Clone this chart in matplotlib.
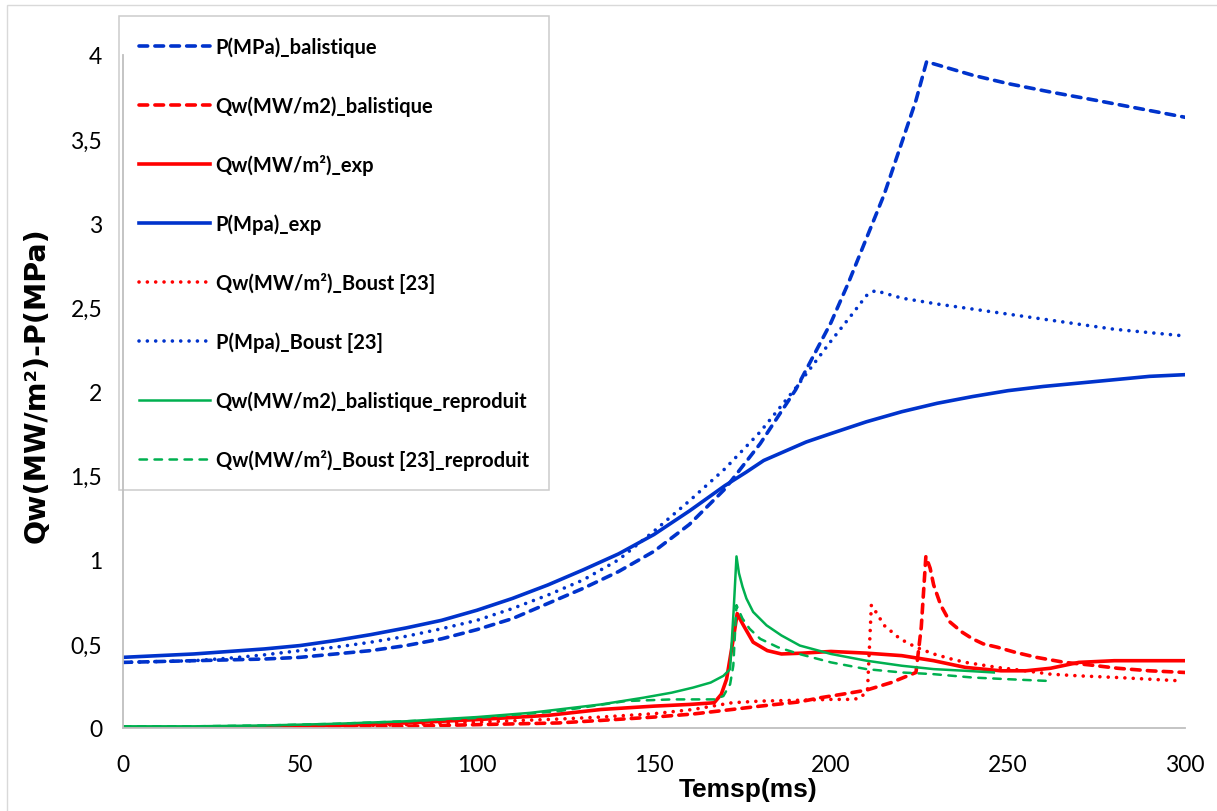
import matplotlib
matplotlib.use('Agg')
import matplotlib.pyplot as plt
from matplotlib.ticker import FuncFormatter, MultipleLocator
from matplotlib.patches import Rectangle
from matplotlib.font_manager import FontProperties

# ---------------- data ----------------
t_p_bal = [0, 10, 20, 30, 40, 50, 60, 70, 80, 90, 100, 110, 120, 130, 140, 150, 160, 170, 180, 190,
           200, 205, 210, 215, 220, 224, 227, 240, 250, 262, 275, 290, 300]
p_bal = [0.39, 0.395, 0.40, 0.405, 0.41, 0.42, 0.44, 0.46, 0.49, 0.53, 0.585, 0.65, 0.74, 0.83, 0.93,
         1.05, 1.21, 1.42, 1.69, 2.01, 2.41, 2.65, 2.91, 3.17, 3.48, 3.73, 3.96, 3.88, 3.83, 3.78,
         3.73, 3.67, 3.63]

t_q_bal = [0, 20, 40, 60, 80, 100, 123, 135, 150, 161, 172, 180, 191, 197, 203, 210, 217, 224,
           225.5, 226.8, 228, 229, 231, 233.6, 237, 240, 243, 247, 252, 258, 266, 273, 281, 290, 300]
q_bal = [0.0, 0.0, 0.0, 0.005, 0.01, 0.02, 0.03, 0.045, 0.065, 0.083, 0.11, 0.13, 0.155, 0.18, 0.20,
         0.225, 0.27, 0.33, 0.60, 1.02, 0.95, 0.85, 0.73, 0.63, 0.57, 0.53, 0.50, 0.48, 0.45, 0.42,
         0.39, 0.375, 0.355, 0.34, 0.33]

t_q_exp = [0, 20, 40, 60, 80, 100, 120, 135, 150, 160, 167, 169, 170.5, 172.4, 173.5, 175, 178, 182,
           186, 192, 200, 210, 220, 229, 238, 248, 255, 262, 270, 280, 290, 300]
q_exp = [0.0, 0.0, 0.005, 0.015, 0.03, 0.05, 0.075, 0.11, 0.13, 0.14, 0.15, 0.20, 0.29, 0.53, 0.68,
         0.62, 0.51, 0.46, 0.44, 0.445, 0.455, 0.445, 0.43, 0.40, 0.36, 0.34, 0.34, 0.355, 0.39, 0.40,
         0.40, 0.40]

t_p_exp = [0, 10, 20, 30, 40, 50, 60, 70, 80, 90, 100, 110, 120, 130, 140, 150, 160, 170, 176, 181,
           187, 193, 200, 210, 220, 230, 240, 250, 260, 270, 280, 290, 300]
p_exp = [0.42, 0.43, 0.44, 0.455, 0.47, 0.49, 0.52, 0.555, 0.595, 0.64, 0.70, 0.77, 0.85, 0.94, 1.035,
         1.15, 1.29, 1.44, 1.52, 1.59, 1.645, 1.70, 1.75, 1.82, 1.88, 1.93, 1.97, 2.005, 2.03, 2.05,
         2.07, 2.09, 2.10]

t_q_boust = [0, 20, 40, 60, 80, 100, 123, 135, 150, 161, 172, 180, 191, 200, 205, 208, 210.3, 211.4,
             213, 215, 219.5, 224, 229, 234, 238, 247, 255, 262, 270, 281, 290, 299]
q_boust = [0.0, 0.0, 0.005, 0.01, 0.02, 0.035, 0.053, 0.065, 0.085, 0.11, 0.15, 0.16, 0.165, 0.17,
           0.17, 0.175, 0.22, 0.73, 0.68, 0.61, 0.53, 0.48, 0.44, 0.41, 0.39, 0.36, 0.34, 0.32, 0.31,
           0.30, 0.29, 0.28]

t_p_boust = [0, 10, 20, 30, 40, 50, 60, 70, 80, 90, 100, 110, 120, 130, 140, 150, 160, 170, 180, 190,
             200, 206, 210, 212.5, 220, 230, 240, 250, 260, 270, 280, 290, 300]
p_boust = [0.39, 0.395, 0.40, 0.415, 0.435, 0.46, 0.48, 0.51, 0.545, 0.59, 0.64, 0.71, 0.79, 0.88,
           1.00, 1.17, 1.35, 1.54, 1.76, 2.02, 2.30, 2.46, 2.57, 2.60, 2.555, 2.52, 2.49, 2.46, 2.43,
           2.40, 2.37, 2.35, 2.33]

t_q_bal_rep = [0, 20, 40, 60, 80, 100, 115, 125, 135, 147, 155, 161, 166, 169.6, 171.5, 172.5, 173.3,
               174, 175, 176.1, 178, 181.8, 186, 191.2, 200, 210, 220, 229, 238, 246]
q_bal_rep = [0.01, 0.01, 0.015, 0.025, 0.04, 0.065, 0.09, 0.115, 0.14, 0.18, 0.21, 0.24, 0.27, 0.31,
             0.35, 0.70, 1.02, 0.92, 0.84, 0.77, 0.69, 0.61, 0.55, 0.49, 0.44, 0.40, 0.37, 0.35, 0.34,
             0.33]

t_q_boust_rep = [0, 20, 40, 60, 80, 100, 123, 142, 155, 167, 169.6, 171.5, 172.4, 173.3, 175, 177,
                 180, 185, 191, 200, 210, 220, 229, 240, 250, 261]
q_boust_rep = [0.01, 0.01, 0.015, 0.025, 0.04, 0.06, 0.10, 0.16, 0.17, 0.17, 0.19, 0.26, 0.37, 0.73,
               0.65, 0.59, 0.53, 0.48, 0.44, 0.39, 0.35, 0.33, 0.32, 0.30, 0.29, 0.28]

labels = ["P(MPa)_balistique", "Qw(MW/m2)_balistique", "Qw(MW/m²)_exp", "P(Mpa)_exp",
          "Qw(MW/m²)_Boust [23]", "P(Mpa)_Boust [23]", "Qw(MW/m2)_balistique_reproduit",
          "Qw(MW/m²)_Boust [23]_reproduit"]
x_label = "Temsp(ms)"
y_label = "Qw(MW/m²)-P(MPa)"

# ---------------- figure ----------------
W, H, DPI = 1217, 812, 100
fig = plt.figure(figsize=(W / DPI, H / DPI), dpi=DPI)
ax = fig.add_axes([123 / W, 1 - 729 / H, (1185 - 123) / W, (729 - 56) / H])

BLUE = '#0033CC'
RED = '#FF0000'
GREEN = '#00B050'
LW = 2.6
LWG = 1.8

dash = dict(linestyle=(0, (2.4, 2.0)), dash_capstyle='round')
dot = dict(linestyle=(0, (0.01, 2.3)), dash_capstyle='round')
gdash = dict(linestyle=(0, (3.0, 3.0)), dash_capstyle='round')

series = [
    (t_p_bal, p_bal, BLUE, LW, dash),
    (t_q_bal, q_bal, RED, LW, dash),
    (t_q_exp, q_exp, RED, LW, dict(linestyle='-')),
    (t_p_exp, p_exp, BLUE, LW, dict(linestyle='-')),
    (t_q_boust, q_boust, RED, LW, dot),
    (t_p_boust, p_boust, BLUE, LW, dot),
    (t_q_bal_rep, q_bal_rep, GREEN, LWG, dict(linestyle='-')),
    (t_q_boust_rep, q_boust_rep, GREEN, LWG, gdash),
]
handles = []
for (tx, vy, c, lw, st), lab in zip(series, labels):
    h, = ax.plot(tx, vy, color=c, lw=lw, label=lab, solid_joinstyle='round', **st)
    handles.append(h)

ax.set_xlim(0, 300)
ax.set_ylim(0, 4)
ax.xaxis.set_major_locator(MultipleLocator(50))
ax.yaxis.set_major_locator(MultipleLocator(0.5))
fmt = FuncFormatter(lambda v, p: f"{v:g}".replace('.', ','))
ax.xaxis.set_major_formatter(fmt)
ax.yaxis.set_major_formatter(fmt)
for s in ['top', 'right']:
    ax.spines[s].set_visible(False)
for s in ['left', 'bottom']:
    ax.spines[s].set_color('#BFBFBF')
    ax.spines[s].set_linewidth(1.3)
ax.tick_params(axis='both', length=0, labelsize=16.5, labelcolor='black')
ax.tick_params(axis='x', pad=19)
ax.tick_params(axis='y', pad=15)
for lab in ax.get_xticklabels() + ax.get_yticklabels():
    lab.set_fontfamily('Lato')

fig.text(748 / W, 1 - 790 / H, x_label, ha='center', va='center', fontsize=19,
         fontweight='bold', family=['Liberation Sans Narrow', 'Liberation Sans'])
fig.text(37 / W, 1 - 385 / H, y_label, ha='center', va='center', rotation=90, fontsize=20.5,
         fontweight='bold', family=['DejaVu Sans'])

leg = ax.legend(handles, labels, loc='upper left', bbox_to_anchor=(119 / W, 1 - 17 / H),
                bbox_transform=fig.transFigure, borderaxespad=0, frameon=True, fancybox=False,
                edgecolor='#BFBFBF', facecolor='none',
                prop=FontProperties(family='Lato', weight='bold', size=14.5),
                handlelength=3.5, handletextpad=0.3, labelspacing=1.9, borderpad=1.0)
leg.get_frame().set_linewidth(1.1)

fig.add_artist(Rectangle((7 / W, -0.5), 1.5, 0.5 + 1 - 6 / H, transform=fig.transFigure,
                         fill=False, edgecolor='#D9D9D9', lw=1.0))

fig.savefig('out.png', dpi=DPI)
